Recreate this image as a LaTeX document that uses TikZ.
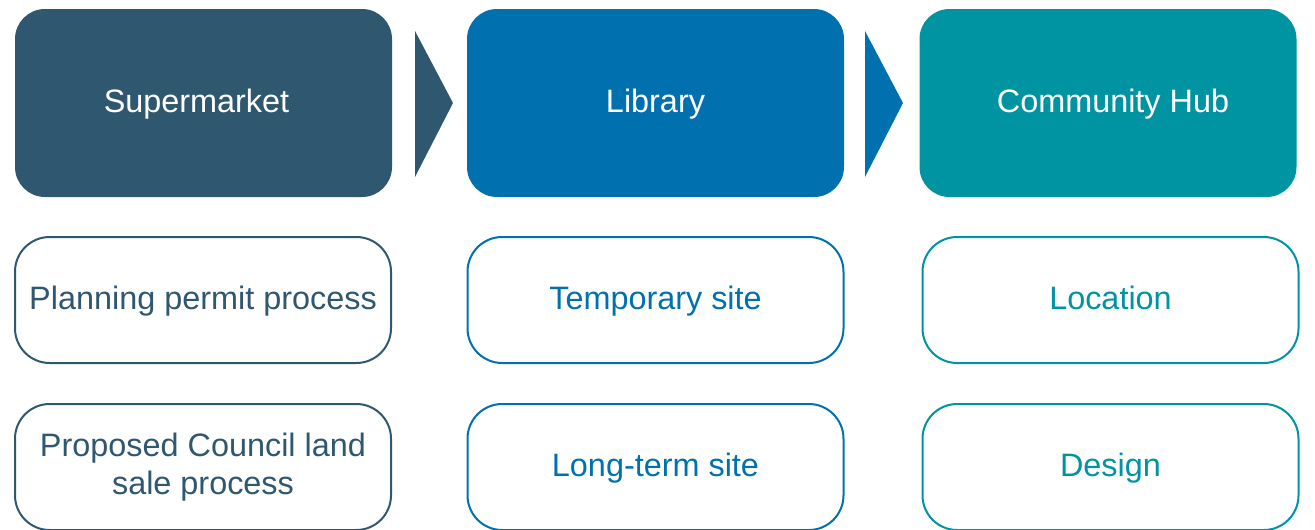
\documentclass[tikz,border=0pt]{standalone}
\usepackage{fontspec}
\setmainfont{Liberation Sans}
\definecolor{slate}{HTML}{2F5870}
\definecolor{ocean}{HTML}{0070AF}
\definecolor{lagoon}{HTML}{0093A1}
\begin{document}
\begin{tikzpicture}[x=0.75pt,y=-0.75pt,
  labelfont/.style={font=\fontsize{24.3}{29}\selectfont},
  oneline/.style={text height=18pt, text depth=4.5pt},
  headbox/.style={rectangle, rounded corners=22.5pt, draw=none,
    minimum width=377*0.75pt, minimum height=188*0.75pt,
    text=white, labelfont, oneline, inner sep=0pt},
  itembox/.style={rectangle, rounded corners=26pt, draw=#1, fill=white,
    line width=1.5pt, minimum width=376*0.75pt, minimum height=126*0.75pt,
    text=#1, labelfont, align=center, inner sep=0pt},
  chevron/.style={fill=#1, draw=none}
]
\useasboundingbox (0,0) rectangle (1315,529);

% column headings
\node[headbox, fill=slate]  (sup) at (203.5,103) {Supermarket\hspace*{10.5pt}};
\node[headbox, fill=ocean]  (lib) at (655.5,103) {Library};
\node[headbox, fill=lagoon] (hub) at (1108,103) {\hspace*{7.5pt}Community Hub};

% arrows between headings
\fill[chevron=slate] (415,31) -- (453,103) -- (415,177) -- cycle;
\fill[chevron=ocean] (865,31) -- (903,103) -- (865,177) -- cycle;

% second row
\node[itembox=slate, oneline]  (plan) at (203,300) {Planning permit process};
\node[itembox=ocean, oneline]  (temp) at (655.5,300) {Temporary site};
\node[itembox=lagoon, oneline] (loc)  at (1110.5,300) {Location};

% third row
\node[itembox=slate]           (sale) at (203,467) {Proposed Council land\\sale process};
\node[itembox=ocean, oneline]  (long) at (655.5,467) {Long-term site};
\node[itembox=lagoon, oneline] (des)  at (1110.5,467) {Design};
\end{tikzpicture}
\end{document}
